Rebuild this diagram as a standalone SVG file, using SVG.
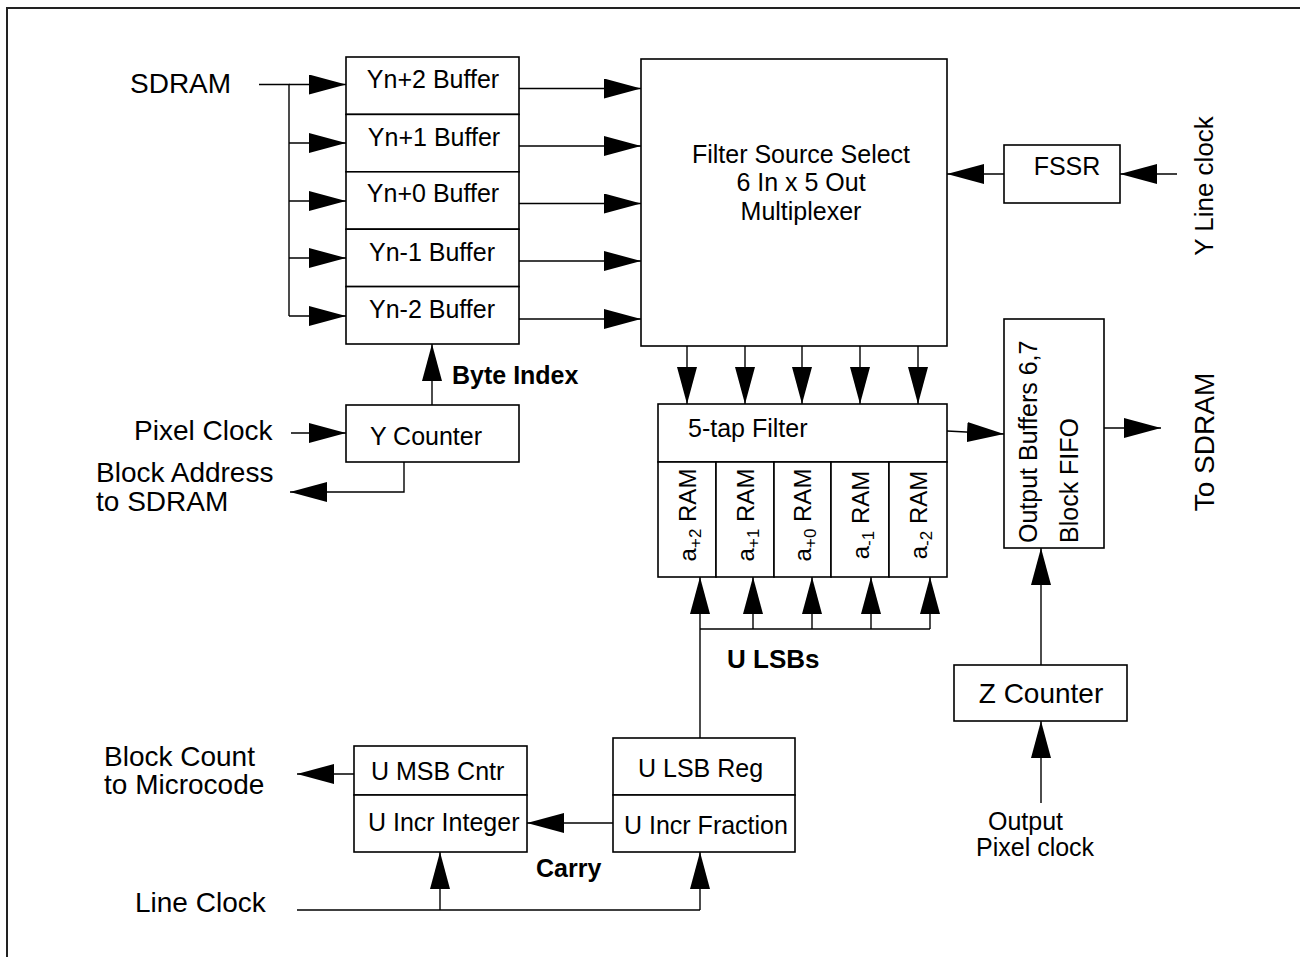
<svg xmlns="http://www.w3.org/2000/svg" width="1300" height="957" viewBox="0 0 1300 957">
<defs>
<marker id="ah" markerUnits="userSpaceOnUse" markerWidth="37" markerHeight="20" refX="37" refY="10" orient="auto"><path d="M0,0L37,10L0,20z" fill="#000"/></marker>
<style>
.box{fill:#fff;stroke:#000;stroke-width:1.6}
.ln{fill:none;stroke:#000;stroke-width:1.4}
.ar{fill:none;stroke:#000;stroke-width:1.4;marker-end:url(#ah)}
text{font-family:"Liberation Sans",Arial,Helvetica,sans-serif;fill:#000}
.t{font-size:25px}
.tl{font-size:28px}
.tb{font-size:25px;font-weight:bold}
.m{text-anchor:middle}
</style>
</defs>
<rect width="1300" height="957" fill="#fff"/>
<path d="M7,962V8H1302" fill="none" stroke="#222" stroke-width="2"/>

<g id="connectors">
<path class="ln" d="M259,84.5H289V316"/>
<path class="ar" d="M289,84.5H346"/>
<path class="ar" d="M289,143H346"/>
<path class="ar" d="M289,201H346"/>
<path class="ar" d="M289,258H346"/>
<path class="ar" d="M289,316H346"/>
<path class="ar" d="M519,88.5H641"/>
<path class="ar" d="M519,146H641"/>
<path class="ar" d="M519,203.5H641"/>
<path class="ar" d="M519,261H641"/>
<path class="ar" d="M519,319H641"/>
<path class="ar" d="M1004,174H947"/>
<path class="ar" d="M1177,174H1120"/>
<path class="ar" d="M687,346V404"/>
<path class="ar" d="M745,346V404"/>
<path class="ar" d="M802,346V404"/>
<path class="ar" d="M860,346V404"/>
<path class="ar" d="M918,346V404"/>
<path class="ar" d="M947,431L1004,434"/>
<path class="ar" d="M1104,428H1161"/>
<path class="ar" d="M1041,665V548"/>
<path class="ar" d="M1041,803V721"/>
<path class="ar" d="M700,738V577"/>
<path class="ln" d="M700,629H930"/>
<path class="ar" d="M753,629V577"/>
<path class="ar" d="M812,629V577"/>
<path class="ar" d="M871,629V577"/>
<path class="ar" d="M930,629V577"/>
<path class="ar" d="M613,823H527"/>
<path class="ar" d="M354,774H297"/>
<path class="ln" d="M297,910H700"/>
<path class="ar" d="M440,910V852"/>
<path class="ar" d="M700,910V852"/>
<path class="ar" d="M291,433H346"/>
<path class="ar" d="M432,405V344"/>
<path class="ar" d="M404,462V492H290"/>
</g>

<g id="label-sdram"><text class="tl" x="130" y="93">SDRAM</text></g>

<g id="buf-yn2"><rect class="box" x="346" y="57" width="173" height="57.4"/><text class="t m" x="433" y="88">Yn+2 Buffer</text></g>
<g id="buf-yn1"><rect class="box" x="346" y="114.4" width="173" height="57.4"/><text class="t m" x="434" y="146">Yn+1 Buffer</text></g>
<g id="buf-yn0"><rect class="box" x="346" y="171.8" width="173" height="57.4"/><text class="t m" x="433" y="202">Yn+0 Buffer</text></g>
<g id="buf-ynm1"><rect class="box" x="346" y="229.2" width="173" height="57.4"/><text class="t m" x="432" y="261">Yn-1 Buffer</text></g>
<g id="buf-ynm2"><rect class="box" x="346" y="286.6" width="173" height="57.4"/><text class="t m" x="432" y="318">Yn-2 Buffer</text></g>

<g id="mux"><rect class="box" x="641" y="59" width="306" height="287"/>
<text class="t m" x="801" y="163">Filter Source Select</text>
<text class="t m" x="801" y="191">6 In x 5 Out</text>
<text class="t m" x="801" y="219.5">Multiplexer</text></g>

<g id="fssr"><rect class="box" x="1004" y="145" width="116" height="58"/><text class="t m" x="1067" y="175">FSSR</text></g>
<g id="label-yline"><text class="t m" style="font-size:26px" transform="translate(1213,186) rotate(-90)">Y Line clock</text></g>

<g id="filter"><rect class="box" x="658" y="404" width="289" height="58"/><text class="t" x="688" y="437">5-tap Filter</text></g>
<g id="ram-p2"><rect class="box" x="658" y="462" width="58" height="115"/><text class="t m" style="font-size:24px" transform="translate(696,515) rotate(-90)">a<tspan font-size="17" dy="5">+2</tspan><tspan dy="-5"> RAM</tspan></text></g>
<g id="ram-p1"><rect class="box" x="716" y="462" width="58" height="115"/><text class="t m" style="font-size:24px" transform="translate(754,515) rotate(-90)">a<tspan font-size="17" dy="5">+1</tspan><tspan dy="-5"> RAM</tspan></text></g>
<g id="ram-p0"><rect class="box" x="774" y="462" width="57" height="115"/><text class="t m" style="font-size:24px" transform="translate(811,515) rotate(-90)">a<tspan font-size="17" dy="5">+0</tspan><tspan dy="-5"> RAM</tspan></text></g>
<g id="ram-m1"><rect class="box" x="831" y="462" width="58" height="115"/><text class="t m" style="font-size:24px" transform="translate(869,515) rotate(-90)">a<tspan font-size="17" dy="5">-1</tspan><tspan dy="-5"> RAM</tspan></text></g>
<g id="ram-m2"><rect class="box" x="889" y="462" width="58" height="115"/><text class="t m" style="font-size:24px" transform="translate(927,515) rotate(-90)">a<tspan font-size="17" dy="5">-2</tspan><tspan dy="-5"> RAM</tspan></text></g>

<g id="outbuf"><rect class="box" x="1004" y="319" width="100" height="229"/>
<text class="t" transform="translate(1037,543) rotate(-90)">Output Buffers 6,7</text>
<text class="t" transform="translate(1078,543) rotate(-90)">Block FIFO</text></g>
<g id="label-tosdram"><text class="tl m" transform="translate(1214,442) rotate(-90)">To SDRAM</text></g>

<g id="ycounter"><rect class="box" x="346" y="405" width="173" height="57"/><text class="t m" x="426" y="445">Y Counter</text></g>
<g id="label-byteindex"><text class="tb" x="452" y="384">Byte Index</text></g>
<g id="label-pixelclock"><text class="tl" x="134" y="440">Pixel Clock</text></g>
<g id="label-blockaddr"><text class="tl" x="96" y="482">Block Address</text><text class="tl" x="96" y="511">to SDRAM</text></g>

<g id="label-ulsbs"><text class="tb" style="font-size:26px" x="727" y="668">U LSBs</text></g>

<g id="ulsb"><rect class="box" x="613" y="738" width="182" height="57"/><text class="t" x="638" y="777">U LSB Reg</text>
<rect class="box" x="613" y="795" width="182" height="57"/><text class="t" x="624" y="834">U Incr Fraction</text></g>
<g id="umsb"><rect class="box" x="354" y="746" width="173" height="49"/><text class="t" x="371" y="780">U MSB Cntr</text>
<rect class="box" x="354" y="795" width="173" height="57"/><text class="t" x="368" y="831">U Incr Integer</text></g>

<g id="label-blockcount"><text class="tl" x="104" y="766">Block Count</text><text class="tl" x="104" y="794">to Microcode</text></g>
<g id="label-carry"><text class="tb" x="536" y="877">Carry</text></g>
<g id="label-lineclock"><text class="tl" x="135" y="912">Line Clock</text></g>

<g id="zcounter"><rect class="box" x="954" y="665" width="173" height="56"/><text class="tl m" x="1041" y="703">Z Counter</text></g>
<g id="label-outpix"><text class="t" x="988" y="830">Output</text><text class="t" x="976" y="856">Pixel clock</text></g>
</svg>
